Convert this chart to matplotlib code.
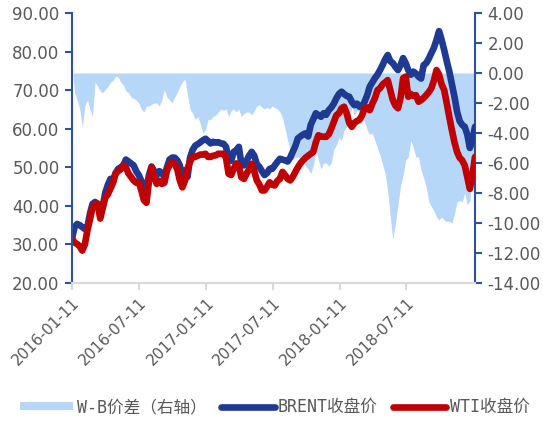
import pandas as pd
import matplotlib
matplotlib.use('Agg')
import matplotlib.pyplot as plt
import matplotlib.dates as md
import matplotlib.ticker as tkr
from matplotlib.patches import Patch
from matplotlib.lines import Line2D

# weekly closes, starting 2016-01-11
dates = pd.date_range('2016-01-11', periods=158, freq='7D')

brent = [31.5, 34.5, 35.3, 35.0, 34.5, 34.0, 34.5, 38.0, 40.5, 41.0,
         40.5, 38.5, 40.0, 43.5, 45.5, 47.0, 46.5, 48.5, 49.6, 50.0,
         50.5, 52.0, 51.5, 51.0, 50.5, 49.0, 48.0, 46.5, 43.5, 44.5,
         48.0, 50.2, 49.0, 48.0, 49.0, 48.5, 47.5, 50.0, 52.0, 52.5,
         52.5, 51.8, 50.5, 47.0, 49.2, 47.5, 52.5, 54.5, 55.6, 56.0,
         56.5, 57.0, 57.4, 56.8, 56.2, 56.6, 56.4, 56.5, 56.2, 56.1,
         55.3, 52.0, 51.7, 54.0, 54.4, 55.3, 50.8, 50.5, 51.7, 53.0,
         54.0, 53.0, 50.8, 50.1, 49.0, 48.0, 48.5, 49.6, 49.6, 50.5,
         51.4, 52.2, 52.0, 51.8, 51.5, 52.5, 54.0, 55.5, 57.5, 58.0,
         58.5, 58.8, 58.0, 61.0, 62.5, 64.0, 63.5, 63.1, 64.0, 63.6,
         64.8, 65.5, 66.5, 67.9, 69.0, 69.6, 69.0, 68.5, 68.3, 67.0,
         66.1, 66.5, 65.7, 65.7, 67.0, 68.7, 70.9, 72.0, 73.1, 74.0,
         75.2, 76.5, 78.0, 79.1, 77.5, 77.0, 76.0, 75.2, 76.5, 78.3,
         77.0, 75.2, 74.0, 74.8, 74.3, 73.5, 73.0, 76.5, 77.0, 78.2,
         79.6, 81.0, 83.0, 85.3, 83.0, 80.4, 77.5, 74.8, 71.5, 68.3,
         64.5, 62.0, 61.0, 60.5, 58.5, 55.0, 57.0, 60.5]

wti = [31.5, 30.5, 30.1, 29.5, 28.4, 30.0, 33.6, 36.5, 39.6, 40.5,
       40.6, 36.7, 39.5, 42.2, 43.0, 44.5, 46.0, 48.4, 49.0, 49.5,
       50.5, 50.0, 48.4, 47.5, 46.6, 46.0, 46.2, 44.0, 41.5, 40.8,
       46.5, 50.0, 47.5, 45.7, 46.5, 45.7, 46.0, 49.2, 50.5, 51.4,
       50.9, 49.5, 46.6, 44.8, 46.5, 49.6, 51.5, 52.7, 52.7, 53.0,
       53.3, 53.3, 53.5, 52.7, 52.7, 53.0, 53.1, 53.5, 53.5, 53.5,
       52.5, 48.3, 48.0, 49.6, 51.0, 50.5, 47.4, 47.0, 48.3, 49.5,
       50.9, 49.0, 46.6, 45.5, 44.0, 44.0, 45.0, 46.1, 45.5, 45.3,
       46.5, 47.0, 48.8, 48.0, 47.0, 46.6, 47.5, 48.8, 50.0, 51.0,
       51.8, 52.5, 53.0, 53.5, 54.0, 56.5, 58.3, 58.0, 57.9, 57.9,
       58.5, 60.0, 61.8, 63.5, 64.0, 65.3, 65.7, 64.0, 61.5, 60.5,
       61.5, 62.0, 62.3, 63.5, 65.3, 65.5, 64.8, 66.5, 67.9, 70.0,
       70.5, 71.5, 72.0, 72.6, 70.0, 67.4, 66.0, 65.3, 68.0, 73.1,
       73.5, 68.3, 69.0, 68.5, 68.7, 67.0, 67.4, 68.0, 68.7, 69.5,
       70.5, 72.5, 75.2, 74.0, 71.5, 70.0, 66.6, 63.0, 59.6, 56.5,
       54.0, 52.5, 51.8, 50.5, 47.4, 44.4, 48.0, 52.7]

spread = [0.7, -1.3, -1.8, -2.4, -3.6, -2.2, -1.8, -2.4, -2.9, -0.6,
          -0.9, -1.2, -1.3, -1.1, -0.9, -0.6, -0.5, -0.2, -0.3, -0.6,
          -0.8, -1.2, -1.3, -1.6, -1.7, -1.8, -2.0, -2.4, -2.6, -2.2,
          -2.2, -2.1, -2.0, -2.0, -2.2, -1.8, -1.1, -1.6, -1.8, -2.0,
          -1.6, -1.3, -0.9, -0.6, -0.4, -1.5, -2.4, -2.7, -3.1, -2.9,
          -3.4, -4.0, -3.8, -3.1, -3.1, -2.9, -2.8, -2.6, -2.4, -2.5,
          -2.4, -2.9, -2.5, -2.4, -2.6, -2.4, -2.9, -2.7, -2.6, -2.6,
          -2.8, -2.5, -2.2, -2.1, -2.3, -2.4, -2.3, -2.4, -2.2, -2.3,
          -2.4, -2.6, -3.0, -3.7, -4.5, -5.1, -5.8, -5.6, -5.6, -5.7,
          -5.6, -6.2, -6.4, -6.7, -6.2, -5.1, -5.8, -6.4, -6.0, -6.0,
          -6.2, -6.0, -5.1, -4.8, -4.3, -4.5, -3.8, -3.6, -3.4, -2.2,
          -2.8, -2.5, -2.6, -3.0, -3.3, -3.8, -4.1, -4.0, -4.5, -5.0,
          -5.5, -6.1, -6.7, -7.9, -9.6, -11.1, -10.0, -8.8, -7.5, -6.8,
          -5.8, -5.6, -4.5, -5.0, -5.6, -5.6, -6.5, -7.0, -7.6, -8.6,
          -8.9, -9.2, -9.6, -9.8, -9.6, -9.8, -9.9, -9.9, -10.0, -9.4,
          -8.6, -8.5, -8.6, -8.0, -8.8, -8.5, -6.6, -7.1]

xticks = ['2016-01-11', '2016-07-11', '2017-01-11', '2017-07-11',
          '2018-01-11', '2018-07-11']

C_AREA = '#B7D7F8'
C_BRENT = '#1F3A93'
C_WTI = '#C00000'
C_AXIS = '#2F4F9F'
C_TXT = '#595959'

fig = plt.figure(figsize=(5.43, 4.21), dpi=100)
ax = fig.add_axes([72/543, 1-283/421, (475-72)/543, (283-13)/421])
ax2 = ax.twinx()

ax2.fill_between(dates, 0, spread, color=C_AREA, linewidth=0)
ax.plot(dates, brent, color=C_BRENT, lw=4.8, solid_joinstyle='round', solid_capstyle='round')
ax.plot(dates, wti, color=C_WTI, lw=4.8, solid_joinstyle='round', solid_capstyle='round')

ax.set_zorder(ax2.get_zorder() + 1)
ax.patch.set_visible(False)

ax.set_ylim(20, 90)
ax.set_yticks(range(20, 91, 10))
ax.yaxis.set_major_formatter(tkr.FuncFormatter(lambda v, p: f"{v:.2f}"))
ax2.set_ylim(-14, 4)
ax2.set_yticks(range(-14, 5, 2))
ax2.yaxis.set_major_formatter(tkr.FuncFormatter(lambda v, p: f"{v:.2f}"))

ax.set_xlim(dates[0], dates[-1])
ax.set_xticks(pd.to_datetime(xticks))
ax.xaxis.set_major_formatter(md.DateFormatter('%Y-%m-%d'))
for lbl in ax.get_xticklabels():
    lbl.set_rotation(45)
    lbl.set_ha('right')
    lbl.set_rotation_mode('anchor')

for a in (ax, ax2):
    a.spines['top'].set_visible(False)
    a.spines['bottom'].set_color('#D9D9D9')
    a.spines['bottom'].set_linewidth(1.5)
    a.spines['left'].set_color(C_AXIS)
    a.spines['right'].set_color(C_AXIS)
    a.spines['left'].set_linewidth(1.5)
    a.spines['right'].set_linewidth(1.5)
ax.spines['right'].set_visible(False)
ax2.spines['left'].set_visible(False)

ax.tick_params(axis='y', colors=C_AXIS, labelcolor=C_TXT, labelsize=12, length=5, width=1.5, pad=4)
ax2.tick_params(axis='y', colors=C_AXIS, labelcolor=C_TXT, labelsize=12, length=5, width=1.5, pad=4)
ax.tick_params(axis='x', colors='#D9D9D9', labelcolor=C_TXT, labelsize=11, length=5, width=1.5, pad=4)

# legend: half-width latin like the original's typeface, CJK falls back to Noto
handles = [Patch(facecolor=C_AREA, edgecolor='none'),
           Line2D([], [], color=C_BRENT, lw=4.8, solid_capstyle='round'),
           Line2D([], [], color=C_WTI, lw=4.8, solid_capstyle='round')]
labels = ['W-B价差（右轴）', 'BRENT收盘价', 'WTI收盘价']
leg = fig.legend(handles, labels, loc='center', bbox_to_anchor=(0.506, 1-407/421),
                 ncol=3, frameon=False, handlelength=3.2, handleheight=0.42,
                 handletextpad=0.2, columnspacing=0.9,
                 prop={'family': ['DejaVu Sans Mono', 'Noto Sans CJK SC'], 'size': 12})
for t in leg.get_texts():
    t.set_color(C_TXT)

plt.savefig('out.png', dpi=100)
plt.close('all')
